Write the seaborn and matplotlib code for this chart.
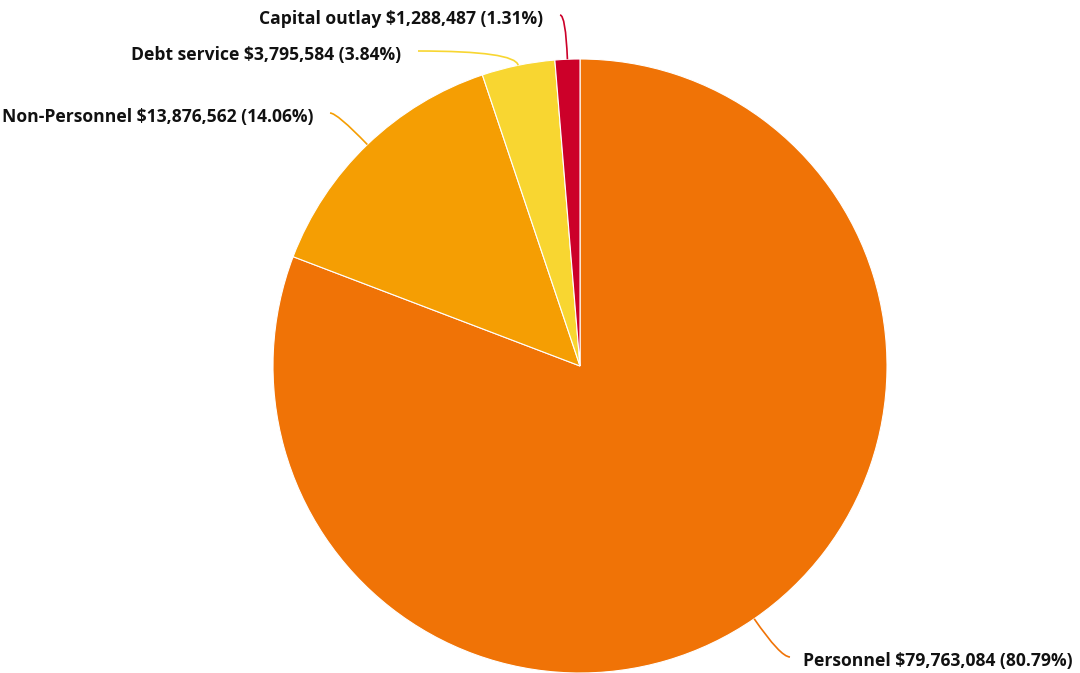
import numpy as np
import matplotlib
matplotlib.use("Agg")
import matplotlib.pyplot as plt
import seaborn as sns
from matplotlib.path import Path
from matplotlib.patches import PathPatch

sns.set_theme(style="white")
plt.rcParams["font.family"] = ["Open Sans", "DejaVu Sans"]

# Budget by category
categories = ["Personnel", "Non-Personnel", "Debt service", "Capital outlay"]
amounts = [79763084, 13876562, 3795584, 1288487]
percents = [80.79, 14.06, 3.84, 1.31]
colors = ["#F07306", "#F59E03", "#F8D631", "#CC0029"]

W, H = 1080, 673
fig = plt.figure(figsize=(W / 100, H / 100), dpi=100)
ax = fig.add_axes([0, 0, 1, 1])

cx, cy, r = 580, H - 366, 307
wedges, _ = ax.pie(
    amounts, colors=colors, startangle=90, counterclock=False,
    center=(cx, cy), radius=r, frame=True,
    wedgeprops=dict(edgecolor="white", linewidth=0.8),
)
ax.set_xlim(0, W)
ax.set_ylim(0, H)
ax.set_aspect("equal")
ax.axis("off")

# label end points (pixel coords from top-left) and alignment
label_ends = [(790, 657, "left"), (330, 113, "right"), (418, 51, "right"), (560, 15, "right")]

for w, cat, amt, pct, col, (lx, ly, ha) in zip(wedges, categories, amounts, percents, colors, label_ends):
    mid = np.deg2rad((w.theta1 + w.theta2) / 2)
    dx, dy = np.cos(mid), np.sin(mid)
    p0 = (cx + r * dx, cy + r * dy)
    end = (lx, H - ly)
    t = (end[1] - p0[1]) / dy if abs(dy) > 1e-6 else 20
    ctrl = (p0[0] + t * dx, end[1])
    path = Path([p0, ctrl, end], [Path.MOVETO, Path.CURVE3, Path.CURVE3])
    ax.add_patch(PathPatch(path, facecolor="none", edgecolor=col, linewidth=1.2))
    tx = lx + 13 if ha == "left" else lx - 17
    ax.text(tx, H - ly - 4, f"{cat} ${amt:,} ({pct:.2f}%)", ha=ha, va="center",
            fontsize=12.6, fontweight="bold", color="#111111")

fig.savefig("out.png", dpi=100)
